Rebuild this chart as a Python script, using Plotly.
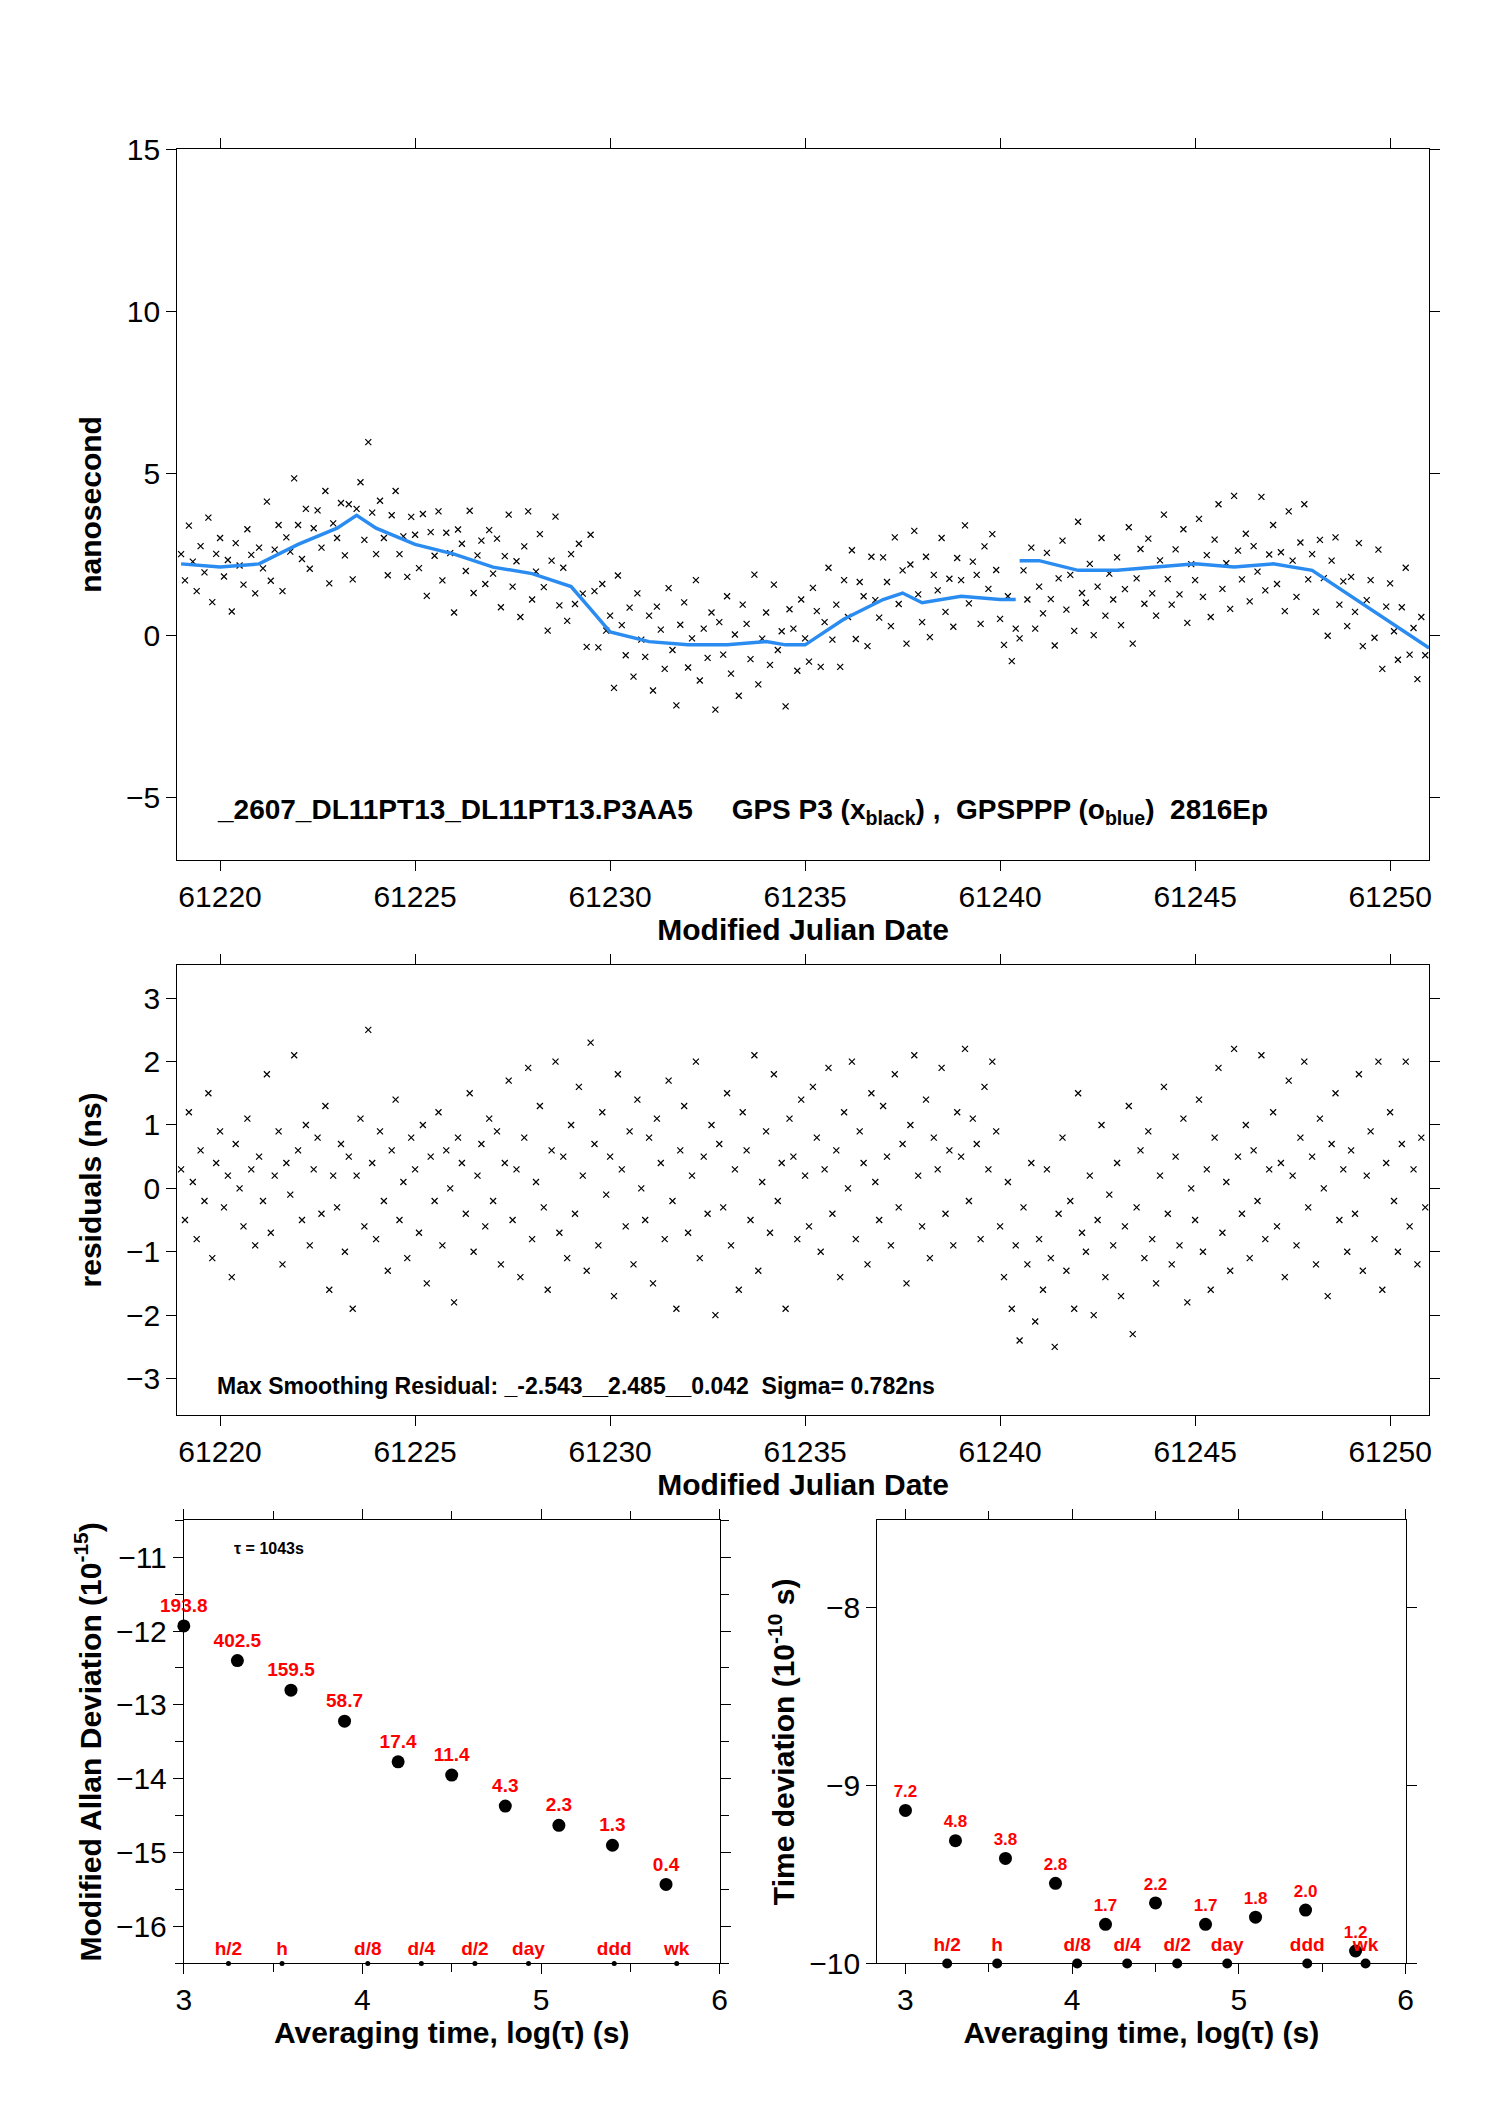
import numpy as np
import plotly.graph_objects as go

# smoothed (blue) curve, MJD / ns
blue_mjd = [61219, 61220, 61221, 61222, 61223, 61223.5, 61224, 61225, 61226, 61227, 61228,
            61229, 61229.5, 61230, 61231, 61232, 61233, 61234, 61234.5, 61235, 61236, 61237,
            61237.5, 61238, 61239, 61240, 61240.4, None, 61240.5, 61241, 61242, 61243, 61244,
            61245, 61246, 61247, 61248, 61249, 61250, 61251]
blue_ns = [2.2, 2.1, 2.2, 2.8, 3.3, 3.7, 3.3, 2.8, 2.5, 2.1, 1.9,
           1.5, 0.8, 0.1, -0.2, -0.3, -0.3, -0.2, -0.3, -0.3, 0.5, 1.1,
           1.3, 1.0, 1.2, 1.1, 1.1, None, 2.3, 2.3, 2.0, 2.0, 2.1,
           2.2, 2.1, 2.2, 2.0, 1.2, 0.4, -0.4]

# residuals every 0.1 day from MJD 61219.0
resid = [
    0.3, -0.5, 1.2, 0.1, -0.8, 0.6, -0.2, 1.5, -1.1, 0.4, 0.9, -0.3, 0.2, -1.4, 0.7, 0.0, -0.6, 1.1, 0.3, -0.9,
    0.5, -0.2, 1.8, -0.7, 0.2, 0.9, -1.2, 0.4, -0.1, 2.1, 0.6, -0.5, 1.0, -0.9, 0.3, 0.8, -0.4, 1.3, -1.6, 0.2,
    -0.3, 0.7, -1.0, 0.5, -1.9, 0.2, 1.1, -0.6, 2.5, 0.4, -0.8, 0.9, -0.2, -1.3, 0.6, 1.4, -0.5, 0.1, -1.1, 0.8,
    0.3, -0.7, 1.0, -1.5, 0.5, -0.2, 1.2, -0.9, 0.6, 0.0, -1.8, 0.8, 0.4, -0.4, 1.5, -1.0, 0.2, 0.7, -0.6, 1.1,
    -0.2, 0.9, -1.2, 0.4, 1.7, -0.5, 0.3, -1.4, 0.8, 1.9, -0.8, 0.1, 1.3, -0.3, -1.6, 0.6, 2.0, -0.7, 0.5, -1.1,
    1.0, -0.4, 1.6, 0.2, -1.3, 2.3, 0.7, -0.9, 1.2, -0.1, 0.5, -1.7, 1.8, 0.3, -0.6, 0.9, -1.2, 1.4, 0.0, -0.5,
    0.8, -1.5, 1.1, 0.4, -0.8, 1.7, -0.2, -1.9, 0.6, 1.3, -0.7, 0.2, 2.0, -1.1, 0.5, -0.4, 1.0, -2.0, 0.7, -0.3,
    1.5, -0.9, 0.3, -1.6, 1.2, 0.6, -0.5, 2.1, -1.3, 0.1, 0.9, -0.7, 1.8, -0.2, 0.4, -1.9, 1.1, 0.5, -0.8, 1.4,
    0.2, -0.6, 1.6, 0.8, -1.0, 0.3, 1.9, -0.4, 0.6, -1.4, 1.2, 0.0, 2.0, -0.8, 0.9, 0.4, -1.2, 1.5, 0.1, -0.5,
    1.3, 0.5, -0.9, 1.8, -0.3, 0.7, -1.5, 1.0, 2.1, 0.2, -0.6, 1.4, -1.1, 0.8, 0.3, 1.9, -0.4, 0.6, -0.9, 1.2,
    0.5, 2.2, -0.2, 1.1, 0.7, -0.8, 1.6, 0.3, 2.0, 0.9, -0.6, -1.4, 0.1, -1.9, -0.9, -2.4, -0.3, -1.2, 0.4, -2.1,
    -0.8, -1.6, 0.3, -1.1, -2.5, -0.4, 0.8, -1.3, -0.2, -1.9, 1.5, -0.7, -1.0, 0.2, -2.0, -0.5, 1.0, -1.4, -0.1, -0.9,
    0.4, -1.7, -0.6, 1.3, -2.3, -0.3, 0.6, -1.1, 0.9, -0.8, -1.5, 0.2, 1.6, -0.4, -1.2, 0.5, -0.9, 1.1, -1.8, 0.0,
    -0.5, 1.4, -1.0, 0.3, -1.6, 0.8, 1.9, -0.7, 0.1, -1.3, 2.2, 0.5, -0.4, 1.0, -1.1, 0.6, -0.2, 2.1, -0.8, 0.3,
    1.2, -0.6, 0.4, -1.4, 1.7, 0.2, -0.9, 0.8, 2.0, -0.3, 0.5, -1.2, 1.1, 0.0, -1.7, 0.7, 1.5, -0.5, 0.3, -1.0,
    0.6, -0.4, 1.8, -1.3, 0.2, 0.9, -0.8, 2.0, -1.6, 0.4, 1.2, -0.2, -1.0, 0.7, 2.0, -0.6, 0.3, -1.2, 0.8, -0.3,
]
mjd = 61219.0 + 0.1 * np.arange(len(resid))

# Allan / time deviation
log_tau = [3.0, 3.3, 3.6, 3.9, 4.2, 4.5, 4.8, 5.1, 5.4, 5.7]
mdev = [-11.93, -12.4, -12.8, -13.22, -13.77, -13.95, -14.37, -14.63, -14.9, -15.43]
mdev_lab = ["193.8", "402.5", "159.5", "58.7", "17.4", "11.4", "4.3", "2.3", "1.3", "0.4"]
tdev = [-9.14, -9.31, -9.41, -9.55, -9.78, -9.66, -9.78, -9.74, -9.70, -9.93]
tdev_lab = ["7.2", "4.8", "3.8", "2.8", "1.7", "2.2", "1.7", "1.8", "2.0", "1.2"]
mark_x = [3.25, 3.55, 4.03, 4.33, 4.63, 4.93, 5.41, 5.76]
mark_lab = ["h/2", "h", "d/8", "d/4", "d/2", "day", "ddd", "wk"]

# black points = smooth curve + residual
bm = [m for m in blue_mjd if m is not None]
bn = [v for v in blue_ns if v is not None]
black = np.interp(mjd, bm, bn) + np.array(resid)

FONT = "Liberation Sans"
fig = go.Figure()
fig.add_trace(go.Scatter(x=mjd, y=black, mode="markers", xaxis="x", yaxis="y",
                         marker=dict(symbol="x-thin", size=6, line=dict(width=1.2, color="black"))))
fig.add_trace(go.Scatter(x=blue_mjd, y=blue_ns, mode="lines", xaxis="x", yaxis="y",
                         line=dict(color="#2a8cf0", width=3.5), connectgaps=False))
fig.add_trace(go.Scatter(x=mjd, y=resid, mode="markers", xaxis="x2", yaxis="y2",
                         marker=dict(symbol="x-thin", size=6, line=dict(width=1.2, color="black"))))
fig.add_trace(go.Scatter(x=log_tau, y=mdev, mode="markers+text", xaxis="x3", yaxis="y3",
                         text=mdev_lab, textposition="top center", cliponaxis=False,
                         textfont=dict(color="red", size=19, family=FONT, weight="bold"),
                         marker=dict(color="black", size=13)))
fig.add_trace(go.Scatter(x=mark_x, y=[-16.5] * len(mark_x), mode="markers+text", xaxis="x3", yaxis="y3",
                         text=mark_lab, textposition="top center", cliponaxis=False,
                         textfont=dict(color="red", size=19, family=FONT, weight="bold"),
                         marker=dict(color="black", size=5)))
fig.add_trace(go.Scatter(x=log_tau, y=tdev, mode="markers+text", xaxis="x4", yaxis="y4",
                         text=tdev_lab, textposition="top center", cliponaxis=False,
                         textfont=dict(color="red", size=17, family=FONT, weight="bold"),
                         marker=dict(color="black", size=13)))
fig.add_trace(go.Scatter(x=mark_x, y=[-10] * len(mark_x), mode="markers+text", xaxis="x4", yaxis="y4",
                         text=mark_lab, textposition="top center", cliponaxis=False,
                         textfont=dict(color="red", size=19, family=FONT, weight="bold"),
                         marker=dict(color="black", size=10)))

ax = dict(showline=True, linecolor="black", linewidth=1, mirror="ticks", ticks="outside",
          ticklen=10, tickcolor="black", showgrid=False, zeroline=False, tickformat="d",
          tickfont=dict(size=30, family=FONT, color="black"),
          title_font=dict(size=30, family=FONT, color="black", weight="bold"))

fig.update_layout(
    width=1488, height=2105, showlegend=False, plot_bgcolor="white", paper_bgcolor="white",
    margin=dict(l=0, r=0, t=0, b=0),
    xaxis=dict(ax, domain=[0.1095, 0.96], anchor="y", range=[61218.9, 61251.0], dtick=5,
               title=dict(text="Modified Julian Date", standoff=2)),
    yaxis=dict(ax, domain=[0.597, 0.94], anchor="x", range=[-6.93, 15], dtick=5,
               title=dict(text="nanosecond", standoff=15)),
    xaxis2=dict(ax, domain=[0.1095, 0.96], anchor="y2", range=[61218.9, 61251.0], dtick=5,
                title=dict(text="Modified Julian Date", standoff=2)),
    yaxis2=dict(ax, domain=[0.329, 0.546], anchor="x2", range=[-3.57, 3.52], dtick=1,
                title=dict(text="residuals (ns)", standoff=15)),
    xaxis3=dict(ax, domain=[0.114, 0.478], anchor="y3", range=[3, 6], dtick=1,
                minor=dict(dtick=0.5, ticks="outside", ticklen=8),
                title=dict(text="Averaging time, log(τ) (s)", standoff=2)),
    yaxis3=dict(ax, domain=[0.064, 0.278], anchor="x3", range=[-16.5, -10.5], dtick=1,
                minor=dict(dtick=0.5, ticks="outside", ticklen=8),
                title=dict(text="Modified Allan Deviation (10<sup>-15</sup>)", standoff=5)),
    xaxis4=dict(ax, domain=[0.585, 0.944], anchor="y4", range=[2.83, 6], dtick=1,
                minor=dict(dtick=0.5, ticks="outside", ticklen=8),
                title=dict(text="Averaging time, log(τ) (s)", standoff=2)),
    yaxis4=dict(ax, domain=[0.064, 0.278], anchor="x4", range=[-10, -7.51], dtick=1,
                title=dict(text="Time deviation (10<sup>-10</sup> s)", standoff=5)),
    annotations=[
        dict(xref="x domain", yref="y domain", x=0.03, y=0.04, xanchor="left", yanchor="bottom",
             showarrow=False, font=dict(size=28, family=FONT, color="black", weight="bold"),
             text="_2607_DL11PT13_DL11PT13.P3AA5     GPS P3 (x<sub>black</sub>) ,  GPSPPP (o<sub>blue</sub>)  2816Ep"),
        dict(xref="x2 domain", yref="y2 domain", x=0.03, y=0.03, xanchor="left", yanchor="bottom",
             showarrow=False, font=dict(size=23, family=FONT, color="black", weight="bold"),
             text="Max Smoothing Residual: _-2.543__2.485__0.042  Sigma= 0.782ns"),
        dict(xref="x3 domain", yref="y3 domain", x=0.09, y=0.96, xanchor="left", yanchor="top",
             showarrow=False, font=dict(size=16, family=FONT, color="black", weight="bold"),
             text="τ = 1043s"),
    ],
)

fig.write_html("out.html")
